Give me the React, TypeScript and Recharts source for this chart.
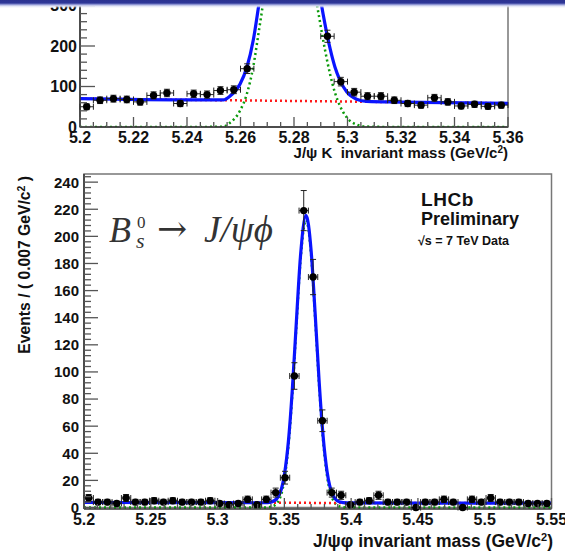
import React from 'react';
import {
  ComposedChart,
  Scatter,
  Line,
  XAxis,
  YAxis,
  ErrorBar,
  ReferenceArea,
} from 'recharts';

// top panel: B+ -> J/psi K (5 MeV bins), the slide cuts it off at the top
const bpMass = [
  5.2025, 5.2075, 5.2125, 5.2175, 5.2225, 5.2275, 5.2325, 5.2375, 5.2425, 5.2475,
  5.2525, 5.2575, 5.2625, 5.2675, 5.2725, 5.2775, 5.2825, 5.2875, 5.2925, 5.2975,
  5.3025, 5.3075, 5.3125, 5.3175, 5.3225, 5.3275, 5.3325, 5.3375, 5.3425, 5.3475,
  5.3525, 5.3575,
];
const bpEvents = [
  50, 66, 70, 68, 62, 78, 84, 58, 82, 80, 90, 92, 144, 380, 700, 930, 720, 400, 224, 112,
  86, 76, 76, 66, 58, 54, 72, 62, 52, 56, 51, 54,
];
const bpErr = [
  7.1, 8.1, 8.4, 8.2, 7.9, 8.8, 9.2, 7.6, 9.1, 8.9, 9.5, 9.6, 12, 19.5, 26.5, 30.5, 26.8, 20, 15, 10.6,
  9.3, 8.7, 8.7, 8.1, 7.6, 7.3, 8.5, 7.9, 7.2, 7.5, 7.1, 7.3,
];
const bpBinHalf = 0.0025;

// fit curves
const bpCurveMass = [
  5.2, 5.24, 5.2536, 5.256, 5.2598, 5.2623, 5.2648, 5.2667, 5.2685, 5.272, 5.2785, 5.285,
  5.288, 5.2897, 5.2916, 5.2935, 5.2953, 5.2972, 5.2997, 5.3034, 5.3072, 5.32, 5.36,
];
const bpSignal = [
  0, 0, 1, 10, 40, 80, 150, 230, 310, 550, 900, 560, 330, 260, 190, 130, 85, 52, 24, 6, 1, 0, 0,
];
const bpBackground = [
  70, 67.1, 66.1, 66, 65.7, 65.5, 65.3, 65.2, 65.1, 64.8, 64.4, 63.9, 63.7, 63.6, 63.4, 63.3,
  63.2, 63.1, 62.9, 62.6, 62.3, 61.4, 58.5,
];
const bpTotal = [
  70, 67.1, 67.1, 76, 105.7, 145.5, 215.3, 295.2, 375.1, 614.8, 964.4, 623.9, 393.7, 323.6,
  253.4, 193.3, 148.2, 115.1, 86.9, 68.6, 63.3, 61.4, 58.5,
];

const bpXTicks = [5.2, 5.22, 5.24, 5.26, 5.28, 5.3, 5.32, 5.34, 5.36];
const bpYTicks = [0, 100, 200, 300];

// bottom panel: Bs -> J/psi phi (7 MeV bins)
const bsMass = [
  5.2035, 5.2105, 5.2175, 5.2245, 5.2315, 5.2385, 5.2455, 5.2525, 5.2595, 5.2665,
  5.2735, 5.2805, 5.2875, 5.2945, 5.3015, 5.3085, 5.3155, 5.3225, 5.3295, 5.3365,
  5.3435, 5.3505, 5.3575, 5.3645, 5.3715, 5.3785, 5.3855, 5.3925, 5.3995, 5.4065,
  5.4135, 5.4205, 5.4275, 5.4345, 5.4415, 5.4485, 5.4555, 5.4625, 5.4695, 5.4765,
  5.4835, 5.4905, 5.4975, 5.5045, 5.5115, 5.5185, 5.5255, 5.5325, 5.5395, 5.5465,
];
const bsEvents = [
  7, 4, 4, 3, 7, 4, 4, 5, 4, 5,
  4, 4, 4, 5, 3, 2, 3, 6, 2, 6,
  11, 22, 97, 219, 170, 64, 11, 9, 2, 4,
  5, 9, 4, 4, 4, 0, 4, 4, 6, 4,
  0, 6, 4, 7, 4, 4, 4, 3, 3, 3,
];
const bsErr = [
  2.6, 2, 2, 1.7, 2.6, 2, 2, 2.2, 2, 2.2,
  2, 2, 2, 2.2, 1.7, 1.4, 1.7, 2.4, 1.4, 2.4,
  3.3, 4.7, 9.8, 14.8, 13, 8, 3.3, 3, 1.4, 2,
  2.2, 3, 2, 2, 2, 1.1, 2, 2, 2.4, 2,
  1.1, 2.4, 2, 2.6, 2, 2, 2, 1.7, 1.7, 1.7,
];
const bsBinHalf = 0.0035;

const bsCurveMass = [
  5.2, 5.3, 5.335, 5.34, 5.345, 5.35, 5.353, 5.356, 5.359, 5.362, 5.3662, 5.37, 5.373,
  5.376, 5.379, 5.382, 5.386, 5.391, 5.397, 5.45, 5.55,
];
const bsSignal = [
  0, 0, 0, 0.5, 3.9, 20.5, 45, 84, 133.7, 181, 212, 186.5, 140.5, 90.3, 49.4, 23, 6.5, 0.9, 0, 0, 0,
];
const bsBackground = [
  3.7, 3.6, 3.5, 3.5, 3.5, 3.5, 3.5, 3.5, 3.5, 3.5, 3.5, 3.4, 3.4, 3.4, 3.4, 3.4, 3.4, 3.4, 3.4, 3.3, 3.2,
];
const bsTotal = [
  3.7, 3.6, 3.5, 4.0, 7.4, 24.0, 48.5, 87.5, 137.2, 184.5, 215.5, 189.9, 143.9, 93.7, 52.8,
  26.4, 9.9, 4.3, 3.4, 3.3, 3.2,
];

const bsXTicks = [5.2, 5.25, 5.3, 5.35, 5.4, 5.45, 5.5, 5.55];
const bsYTicks = [0, 20, 40, 60, 80, 100, 120, 140, 160, 180, 200, 220, 240];

const sans = '"Liberation Sans", Arial, Helvetica, sans-serif';
const serif = '"Liberation Serif", "DejaVu Serif", "Times New Roman", serif';

// major ticks plus ROOT style minor subdivisions
const withMinor = (majors: number[], n: number, max: number) => {
  const step = (majors[1] - majors[0]) / n;
  const out: number[] = [];
  for (let i = 0; ; i++) {
    const v = Math.round((majors[0] + i * step) * 1e6) / 1e6;
    if (v > max + 1e-9) break;
    out.push(v);
  }
  return out;
};

const points = (mass: number[], ev: number[], err: number[], half: number) =>
  mass.map((m, i) => ({ x: m, y: ev[i], ey: err[i], ex: half }));

const curve = (mass: number[], vals: number[]) => mass.map((m, i) => ({ x: m, y: vals[i] }));

const isMajor = (v: number, majors: number[]) => majors.some((m) => Math.abs(m - v) < 1e-6);
const fmt = (v: number) => String(+v.toFixed(3));

const leftTick =
  (majors: number[], majorLen: number, minorLen: number, size: number, gap: number) =>
  (p: any) => {
    const v = p.payload.value;
    const major = isMajor(v, majors);
    return (
      <g>
        <line
          x1={p.x}
          y1={p.y}
          x2={p.x + (major ? majorLen : minorLen)}
          y2={p.y}
          stroke='#555'
          strokeWidth={1.3}
        />
        {major && (
          <text
            x={p.x - gap}
            y={p.y + size * 0.36}
            textAnchor='end'
            fontFamily={sans}
            fontWeight='bold'
            fontSize={size}
            fill='#111'
          >
            {fmt(v)}
          </text>
        )}
      </g>
    );
  };

const bottomTick =
  (majors: number[], majorLen: number, minorLen: number, size: number, offset: number) =>
  (p: any) => {
    const v = p.payload.value;
    const major = isMajor(v, majors);
    return (
      <g>
        <line
          x1={p.x}
          y1={p.y}
          x2={p.x}
          y2={p.y - (major ? majorLen : minorLen)}
          stroke='#555'
          strokeWidth={1.3}
        />
        {major && (
          <text
            x={p.x}
            y={p.y + offset}
            textAnchor='middle'
            fontFamily={sans}
            fontWeight='bold'
            fontSize={size}
            fill='#111'
          >
            {fmt(v)}
          </text>
        )}
      </g>
    );
  };

const Marker = (p: any) =>
  p.cx == null ? <g /> : <circle cx={p.cx} cy={p.cy} r={3.7} fill='#000' />;

const BLUE = '#0a14ff';
const RED = '#ff1a1a';
const GREEN = '#0a9a0a';

const TopPanel = () => (
  <ComposedChart
    width={565}
    height={187}
    margin={{ top: 23.35, right: 57, bottom: 5, left: 0 }}
  >
    <XAxis
      type='number'
      dataKey='x'
      domain={[5.2, 5.36]}
      allowDataOverflow
      ticks={withMinor(bpXTicks, 4, 5.36)}
      interval={0}
      height={25}
      tickSize={0}
      tickMargin={0}
      tickLine={false}
      axisLine={{ stroke: '#333', strokeWidth: 1.5 }}
      tick={bottomTick(bpXTicks, 10, 5, 16, 15.5)}
    />
    <YAxis
      type='number'
      domain={[0, 330]}
      allowDataOverflow
      ticks={withMinor(bpYTicks, 5, 320)}
      interval={0}
      width={80}
      tickSize={0}
      tickMargin={0}
      tickLine={false}
      axisLine={{ stroke: '#333', strokeWidth: 1.5 }}
      tick={leftTick(bpYTicks, 15, 7, 16, 3)}
    />
    <ReferenceArea x1={5.2} x2={5.36} y1={0} y2={330} fill='none' stroke='#777' strokeWidth={1.5} />
    <Line
      data={curve(bpCurveMass, bpSignal)}
      dataKey='y'
      type='monotone'
      dot={false}
      stroke={GREEN}
      strokeWidth={2.5}
      strokeDasharray='2 3'
      isAnimationActive={false}
    />
    <Line
      data={curve(bpCurveMass, bpBackground)}
      dataKey='y'
      type='monotone'
      dot={false}
      stroke={RED}
      strokeWidth={2.5}
      strokeDasharray='2 3'
      isAnimationActive={false}
    />
    <Line
      data={curve(bpCurveMass, bpTotal)}
      dataKey='y'
      type='monotone'
      dot={false}
      stroke={BLUE}
      strokeWidth={3.2}
      isAnimationActive={false}
    />
    <Scatter
      data={points(bpMass, bpEvents, bpErr, bpBinHalf)}
      dataKey='y'
      shape={Marker}
      isAnimationActive={false}
    >
      <ErrorBar dataKey='ey' direction='y' width={3} stroke='#222' strokeWidth={1} />
      <ErrorBar dataKey='ex' direction='x' width={3} stroke='#222' strokeWidth={1} />
    </Scatter>
  </ComposedChart>
);

const BottomPanel = () => (
  <ComposedChart
    width={565}
    height={551}
    margin={{ top: 174, right: 13.5, bottom: 12, left: 0 }}
  >
    <XAxis
      type='number'
      dataKey='x'
      domain={[5.2, 5.55]}
      ticks={withMinor(bsXTicks, 5, 5.55)}
      interval={0}
      height={30}
      tickSize={0}
      tickMargin={0}
      tickLine={false}
      axisLine={{ stroke: '#333', strokeWidth: 1.5 }}
      tick={bottomTick(bsXTicks, 11, 5, 16, 16)}
    />
    <YAxis
      type='number'
      domain={[0, 246]}
      ticks={withMinor(bsYTicks, 5, 244)}
      interval={0}
      width={84}
      tickSize={0}
      tickMargin={0}
      tickLine={false}
      axisLine={{ stroke: '#333', strokeWidth: 1.5 }}
      tick={leftTick(bsYTicks, 14, 7, 15, 5)}
    />
    <ReferenceArea x1={5.2} x2={5.55} y1={0} y2={246} fill='none' stroke='#777' strokeWidth={1.5} />
    <Line
      data={curve(bsCurveMass, bsSignal)}
      dataKey='y'
      type='monotone'
      dot={false}
      stroke={GREEN}
      strokeWidth={2.5}
      strokeDasharray='2 3'
      isAnimationActive={false}
    />
    <Line
      data={curve(bsCurveMass, bsBackground)}
      dataKey='y'
      type='monotone'
      dot={false}
      stroke={RED}
      strokeWidth={2.5}
      strokeDasharray='2 3'
      isAnimationActive={false}
    />
    <Line
      data={curve(bsCurveMass, bsTotal)}
      dataKey='y'
      type='monotone'
      dot={false}
      stroke={BLUE}
      strokeWidth={3.2}
      isAnimationActive={false}
    />
    <Scatter
      data={points(bsMass, bsEvents, bsErr, bsBinHalf)}
      dataKey='y'
      shape={Marker}
      isAnimationActive={false}
    >
      <ErrorBar dataKey='ey' direction='y' width={3} stroke='#222' strokeWidth={1} />
      <ErrorBar dataKey='ex' direction='x' width={3} stroke='#222' strokeWidth={1} />
    </Scatter>
  </ComposedChart>
);

export default function App() {
  return (
    <div
      style={{
        position: 'absolute',
        left: 0,
        top: 0,
        width: 565,
        height: 551,
        overflow: 'hidden',
        background: '#fff',
      }}
    >
      <div style={{ position: 'absolute', left: 0, top: 0 }}>
        <BottomPanel />
      </div>
      <div style={{ position: 'absolute', left: 0, top: -30 }}>
        <TopPanel />
      </div>
      <div
        style={{
          position: 'absolute',
          left: 0,
          top: 0,
          width: 565,
          height: 8,
          background:
            'linear-gradient(to bottom, #2b3290 0px, #2e3698 3px, #8c93d2 4.5px, #dfe2f5 6px, rgba(255,255,255,0) 8px)',
        }}
      />
      <svg
        width={565}
        height={551}
        style={{ position: 'absolute', left: 0, top: 0, pointerEvents: 'none' }}
      >
        <text x={508} y={158} textAnchor='end' fontFamily={sans} fontWeight='bold' fontSize={15} fill='#111'>
          {'J/ψ K\u00a0\u00a0invariant mass (GeV/c'}
          <tspan dy={-5} fontSize={10}>2</tspan>
          <tspan dy={5}>)</tspan>
        </text>
        <text x={553} y={547} textAnchor='end' fontFamily={sans} fontWeight='bold' fontSize={17.5} fill='#111'>
          J/ψφ invariant mass (GeV/c
          <tspan dy={-6} fontSize={11}>2</tspan>
          <tspan dy={6}>)</tspan>
        </text>
        <text
          x={0}
          y={0}
          transform='translate(30,176) rotate(-90)'
          textAnchor='end'
          fontFamily={sans}
          fontWeight='bold'
          fontSize={15.7}
          fill='#111'
        >
          Events / ( 0.007 GeV/c
          <tspan dy={-5} fontSize={10.5}>2</tspan>
          <tspan dy={5}> )</tspan>
        </text>

        <g fill='#333' fontFamily={serif}>
          <text x={109} y={242} fontStyle='italic' fontSize={36}>B</text>
          <text x={137} y={228} fontSize={17}>0</text>
          <text x={136} y={248} fontStyle='italic' fontSize={22}>s</text>
          <text x={157} y={241} fontFamily='"DejaVu Serif", serif' fontSize={36}>→</text>
          <text x={204} y={242} fontStyle='italic' fontSize={37}>J/ψϕ</text>
        </g>

        <g fontFamily={sans} fontWeight='bold' fill='#111'>
          <text x={421} y={206} fontSize={19} letterSpacing={0.6}>LHCb</text>
          <text x={421} y={225} fontSize={18}>Preliminary</text>
          <text x={418} y={245} fontSize={12.5}>√s = 7 TeV Data</text>
        </g>
      </svg>
    </div>
  );
}
